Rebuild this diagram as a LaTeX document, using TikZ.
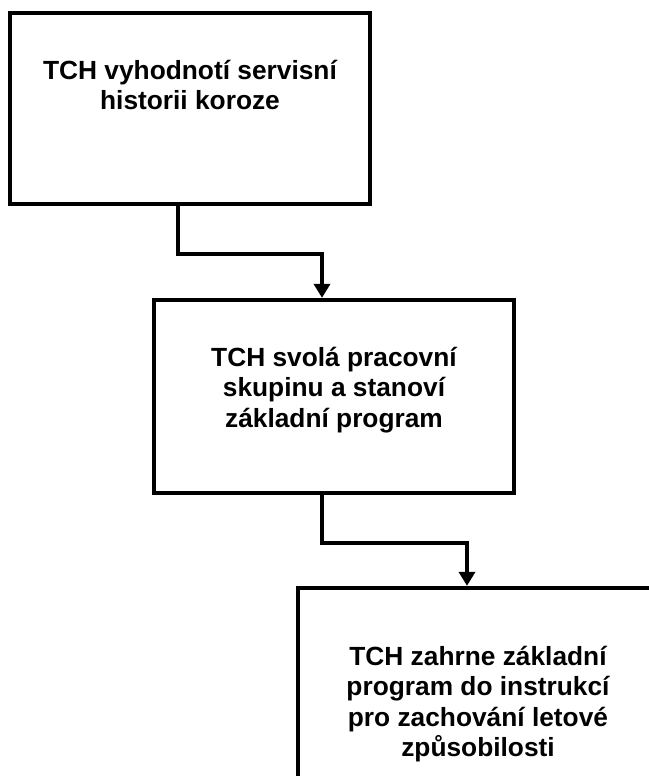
\documentclass[tikz,border=0pt]{standalone}
\usepackage{fontspec}
\setmainfont{Liberation Sans}
\usetikzlibrary{arrows.meta}
\begin{document}
\begin{tikzpicture}[x=1pt,y=-1pt,
  stagebox/.style={draw=black,line width=4.3pt,fill=white,rectangle,inner sep=0pt},
  stagetext/.style={anchor=north,inner sep=0pt,align=center,
    font=\fontsize{26.3}{30.5}\selectfont\bfseries},
  flow/.style={line width=4.3pt,-{Triangle[width=16pt,length=14pt]}}]
  \useasboundingbox (0,0) rectangle (648,776);
  % three stages, each offset to the lower right of the previous one
  \node[stagebox,minimum width=360pt,minimum height=191pt] (b1) at (190,108.5) {};
  \node[stagebox,minimum width=360pt,minimum height=193pt] (b2) at (334,396.5) {};
  \node[stagebox,minimum width=360pt,minimum height=240pt] (b3) at (478,708) {};
  \node[stagetext] (t1) at ([yshift=-49pt]b1.north) {TCH vyhodnotí servisní\\historii koroze};
  \node[stagetext] (t2) at ([yshift=-49pt]b2.north) {TCH svolá pracovní\\skupinu a stanoví\\základní program};
  \node[stagetext] (t3) at ([yshift=-60pt]b3.north) {TCH zahrne základní\\program do instrukcí\\pro zachování letové\\způsobilosti};
  % elbow connectors between the stages
  \draw[flow] ([xshift=-12pt]b1.south) -- ++(0,48) -| ([xshift=-12pt]b2.north);
  \draw[flow] ([xshift=-12pt]b2.south) -- ++(0,48) -| ([xshift=-11pt]b3.north);
\end{tikzpicture}
\end{document}
